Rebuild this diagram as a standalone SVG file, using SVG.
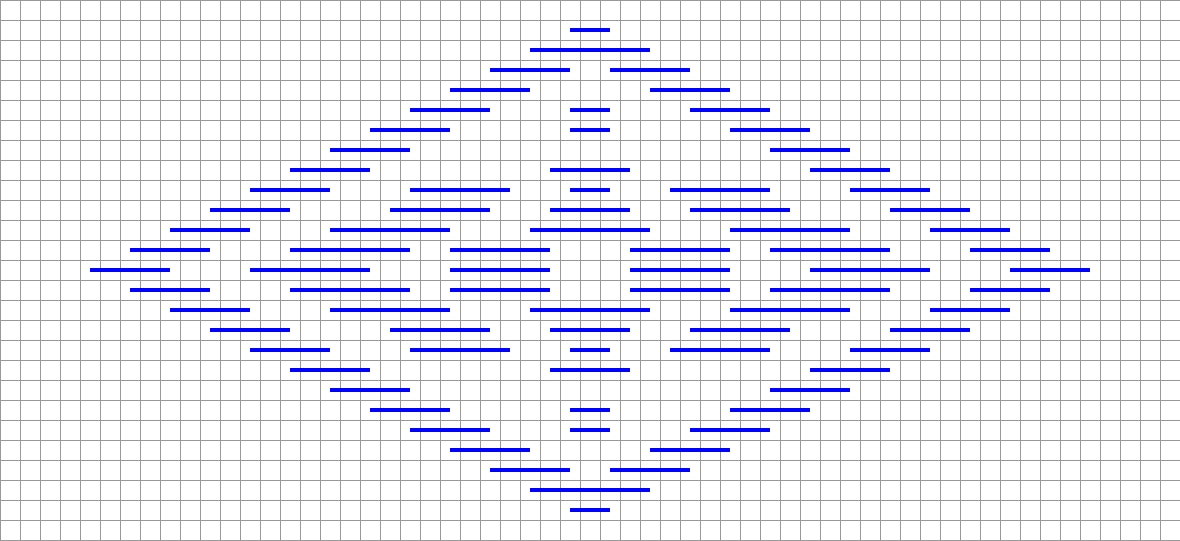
<svg xmlns="http://www.w3.org/2000/svg" width="1180" height="541" viewBox="0 0 1180 541">
<style>
.grid{stroke:#999999;stroke-width:1;fill:none;shape-rendering:crispEdges}
.seg{stroke:#0000ff;stroke-width:4;stroke-linecap:butt;fill:none}
</style>
<rect x="0" y="0" width="1180" height="541" fill="#ffffff"/>
<path class="grid" d="M0.5 0V541M20.5 0V541M40.5 0V541M60.5 0V541M80.5 0V541M100.5 0V541M120.5 0V541M140.5 0V541M160.5 0V541M180.5 0V541M200.5 0V541M220.5 0V541M240.5 0V541M260.5 0V541M280.5 0V541M300.5 0V541M320.5 0V541M340.5 0V541M360.5 0V541M380.5 0V541M400.5 0V541M420.5 0V541M440.5 0V541M460.5 0V541M480.5 0V541M500.5 0V541M520.5 0V541M540.5 0V541M560.5 0V541M580.5 0V541M600.5 0V541M620.5 0V541M640.5 0V541M660.5 0V541M680.5 0V541M700.5 0V541M720.5 0V541M740.5 0V541M760.5 0V541M780.5 0V541M800.5 0V541M820.5 0V541M840.5 0V541M860.5 0V541M880.5 0V541M900.5 0V541M920.5 0V541M940.5 0V541M960.5 0V541M980.5 0V541M1000.5 0V541M1020.5 0V541M1040.5 0V541M1060.5 0V541M1080.5 0V541M1100.5 0V541M1120.5 0V541M1140.5 0V541M1160.5 0V541M0 0.5H1180M0 20.5H1180M0 40.5H1180M0 60.5H1180M0 80.5H1180M0 100.5H1180M0 120.5H1180M0 140.5H1180M0 160.5H1180M0 180.5H1180M0 200.5H1180M0 220.5H1180M0 240.5H1180M0 260.5H1180M0 280.5H1180M0 300.5H1180M0 320.5H1180M0 340.5H1180M0 360.5H1180M0 380.5H1180M0 400.5H1180M0 420.5H1180M0 440.5H1180M0 460.5H1180M0 480.5H1180M0 500.5H1180M0 520.5H1180M0 540.5H1180"/>
<g id="segments" class="seg">
<path d="M570 30H610"/>
<path d="M530 50H650"/>
<path d="M490 70H570M610 70H690"/>
<path d="M450 90H530M650 90H730"/>
<path d="M410 110H490M570 110H610M690 110H770"/>
<path d="M370 130H450M570 130H610M730 130H810"/>
<path d="M330 150H410M770 150H850"/>
<path d="M290 170H370M550 170H630M810 170H890"/>
<path d="M250 190H330M410 190H510M570 190H610M670 190H770M850 190H930"/>
<path d="M210 210H290M390 210H490M550 210H630M690 210H790M890 210H970"/>
<path d="M170 230H250M330 230H450M530 230H650M730 230H850M930 230H1010"/>
<path d="M130 250H210M290 250H410M450 250H550M630 250H730M770 250H890M970 250H1050"/>
<path d="M90 270H170M250 270H370M450 270H550M630 270H730M810 270H930M1010 270H1090"/>
<path d="M130 290H210M290 290H410M450 290H550M630 290H730M770 290H890M970 290H1050"/>
<path d="M170 310H250M330 310H450M530 310H650M730 310H850M930 310H1010"/>
<path d="M210 330H290M390 330H490M550 330H630M690 330H790M890 330H970"/>
<path d="M250 350H330M410 350H510M570 350H610M670 350H770M850 350H930"/>
<path d="M290 370H370M550 370H630M810 370H890"/>
<path d="M330 390H410M770 390H850"/>
<path d="M370 410H450M570 410H610M730 410H810"/>
<path d="M410 430H490M570 430H610M690 430H770"/>
<path d="M450 450H530M650 450H730"/>
<path d="M490 470H570M610 470H690"/>
<path d="M530 490H650"/>
<path d="M570 510H610"/>
</g>
</svg>
